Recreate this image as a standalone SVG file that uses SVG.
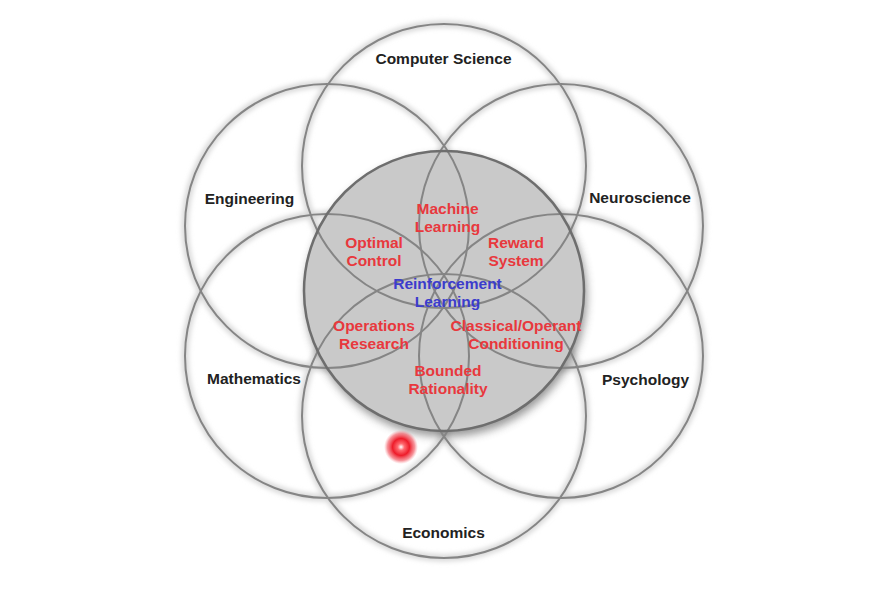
<svg xmlns="http://www.w3.org/2000/svg" width="878" height="610" viewBox="0 0 878 610">
<style>
.ring{fill:none;stroke:#858585;stroke-width:2}
.glow{fill:none;stroke:#d8d8d8;stroke-width:7}
.lbl{font-family:"Liberation Sans",Arial,sans-serif;font-weight:bold;font-size:15.5px;text-anchor:middle}
.blk{fill:#222}
.red{fill:#e8383d}
.blu{fill:#3c3ccc}
</style>
<defs>
<filter id="soft" x="-20%" y="-20%" width="140%" height="140%">
<feGaussianBlur stdDeviation="2.5"/>
</filter>
<filter id="shadow" x="-20%" y="-20%" width="140%" height="140%">
<feGaussianBlur stdDeviation="4"/>
</filter>
<radialGradient id="dot">
<stop offset="0" stop-color="#ffffff"/>
<stop offset="0.2" stop-color="#ff6a70"/>
<stop offset="0.5" stop-color="#ee1c2a"/>
<stop offset="0.8" stop-color="#f04a55" stop-opacity="0.6"/>
<stop offset="1" stop-color="#ff8088" stop-opacity="0"/>
</radialGradient>
</defs>
<rect width="878" height="610" fill="#ffffff"/>
<g id="glows" filter="url(#soft)">
<circle class="glow" cx="444" cy="166" r="142"/>
<circle class="glow" cx="444" cy="416" r="142"/>
<circle class="glow" cx="327" cy="226" r="142"/>
<circle class="glow" cx="561" cy="226" r="142"/>
<circle class="glow" cx="327" cy="356" r="142"/>
<circle class="glow" cx="561" cy="356" r="142"/>
</g>
<g id="center-disc">
<circle cx="446" cy="296" r="141" fill="#555" opacity="0.6" filter="url(#shadow)"/>
<circle cx="444" cy="291" r="140" fill="#c9c9c9"/>
</g>
<g id="connectors">
<circle class="ring" cx="444" cy="166" r="142"/>
<circle class="ring" cx="444" cy="416" r="142"/>
<circle class="ring" cx="327" cy="226" r="142"/>
<circle class="ring" cx="561" cy="226" r="142"/>
<circle class="ring" cx="327" cy="356" r="142"/>
<circle class="ring" cx="561" cy="356" r="142"/>
<circle cx="444" cy="291" r="140" fill="none" stroke="#6e6e6e" stroke-width="2.5"/>
</g>
<g id="computer-science"><text class="lbl blk" x="443.5" y="64">Computer Science</text></g>
<g id="engineering"><text class="lbl blk" x="249.5" y="204">Engineering</text></g>
<g id="neuroscience"><text class="lbl blk" x="640" y="203">Neuroscience</text></g>
<g id="mathematics"><text class="lbl blk" x="254" y="384">Mathematics</text></g>
<g id="psychology"><text class="lbl blk" x="645.5" y="385">Psychology</text></g>
<g id="economics"><text class="lbl blk" x="443.5" y="538">Economics</text></g>
<g id="machine-learning"><text class="lbl red" x="447.5" y="214">Machine<tspan x="447.5" dy="18">Learning</tspan></text></g>
<g id="optimal-control"><text class="lbl red" x="374" y="248">Optimal<tspan x="374" dy="18">Control</tspan></text></g>
<g id="reward-system"><text class="lbl red" x="516" y="248">Reward<tspan x="516" dy="18">System</tspan></text></g>
<g id="reinforcement-learning"><text class="lbl blu" x="447.5" y="289">Reinforcement<tspan x="447.5" dy="18">Learning</tspan></text></g>
<g id="operations-research"><text class="lbl red" x="374" y="331">Operations<tspan x="374" dy="17.5">Research</tspan></text></g>
<g id="classical-operant"><text class="lbl red" x="516" y="331">Classical/Operant<tspan x="516" dy="17.5">Conditioning</tspan></text></g>
<g id="bounded-rationality"><text class="lbl red" x="448" y="376">Bounded<tspan x="448" dy="17.5">Rationality</tspan></text></g>
<g id="pointer"><circle cx="401" cy="447" r="17" fill="url(#dot)"/></g>
</svg>
